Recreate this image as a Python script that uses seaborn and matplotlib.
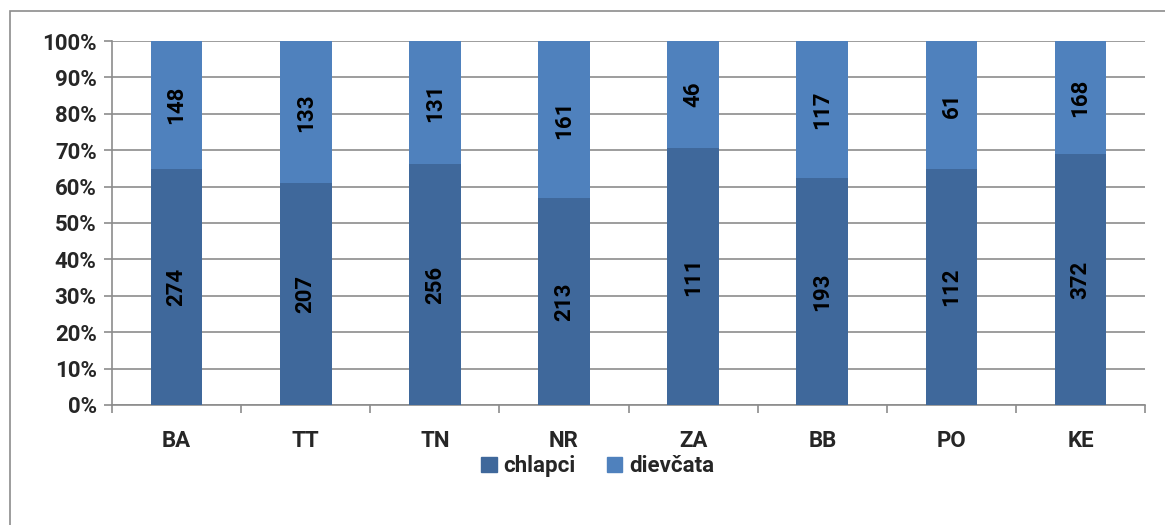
import seaborn as sns
import matplotlib.pyplot as plt
from matplotlib.patches import Rectangle, Patch
import numpy as np
import pandas as pd

regions = ['BA', 'TT', 'TN', 'NR', 'ZA', 'BB', 'PO', 'KE']
chlapci = [274, 207, 256, 213, 111, 193, 112, 372]
dievcata = [148, 133, 131, 161, 46, 117, 61, 168]

c_boys = '#3F689B'
c_girls = '#4F81BD'

sns.set_theme(style='white')
plt.rcParams['font.family'] = ['Roboto', 'DejaVu Sans']
plt.rcParams['font.weight'] = 'bold'
fs = 16

df = pd.DataFrame({'region': regions, 'chlapci': chlapci, 'dievcata': dievcata})
df['total'] = df['chlapci'] + df['dievcata']
df['p_boys'] = df['chlapci'] / df['total'] * 100
df['p_all'] = 100.0

fig = plt.figure(figsize=(11.65, 5.25), dpi=100)
ax = fig.add_axes([0.0961, 0.2286, 0.8869, 0.6933])

# light frame around the chart like the spreadsheet export
fig.patches.append(Rectangle((10 / 1165, -0.05), 1.2, 1 - 11 / 525 + 0.05,
                             transform=fig.transFigure, fill=False,
                             edgecolor='#8C8C8C', linewidth=1.2))

sns.barplot(data=df, x='region', y='p_all', color=c_girls, width=0.4,
            saturation=1, linewidth=0, ax=ax, zorder=3)
sns.barplot(data=df, x='region', y='p_boys', color=c_boys, width=0.4,
            saturation=1, linewidth=0, ax=ax, zorder=3)

for i, row in df.iterrows():
    ax.text(i, row['p_boys'] / 2, str(row['chlapci']), rotation=90,
            ha='center', va='center', fontsize=fs, fontweight='bold',
            color='black', zorder=4)
    ax.text(i, (100 + row['p_boys']) / 2, str(row['dievcata']), rotation=90,
            ha='center', va='center', fontsize=fs, fontweight='bold',
            color='black', zorder=4)

ax.set_ylim(0, 100)
ax.set_xlim(-0.5, len(regions) - 0.5)
ax.set_yticks(np.arange(0, 101, 10))
ax.set_yticklabels([f'{v}%' for v in range(0, 101, 10)], fontsize=fs,
                   fontweight='bold')
ax.yaxis.grid(True, color='#8C8C8C', linewidth=1.2, zorder=0)
ax.set_axisbelow(True)

# category ticks sit between the bars
ax.set_xticks(np.arange(len(regions)))
ax.set_xticklabels(regions, fontsize=fs, fontweight='bold')
ax.set_xticks(np.arange(-0.5, len(regions) + 0.5, 1), minor=True)
ax.tick_params(axis='x', which='major', length=0, pad=18)
ax.tick_params(axis='x', which='minor', length=6, color='#8C8C8C',
               width=1.2, direction='out', bottom=True)
ax.tick_params(axis='y', length=6, color='#8C8C8C', width=1.2,
               direction='out', left=True, pad=5)
ax.set_xlabel('')
ax.set_ylabel('')

for s in ['top', 'right']:
    ax.spines[s].set_visible(False)
for s in ['left', 'bottom']:
    ax.spines[s].set_color('#8C8C8C')
    ax.spines[s].set_linewidth(1.2)

handles = [Patch(color=c_boys, label='chlapci'),
           Patch(color=c_girls, label='dievčata')]
fig.legend(handles=handles, loc='center', bbox_to_anchor=(0.513, 0.112),
           ncol=2, frameon=False, handlelength=0.7,
           handleheight=0.7, handletextpad=0.3, columnspacing=1.4,
           prop={'weight': 'bold', 'size': fs})

fig.savefig('out.png', dpi=100)
